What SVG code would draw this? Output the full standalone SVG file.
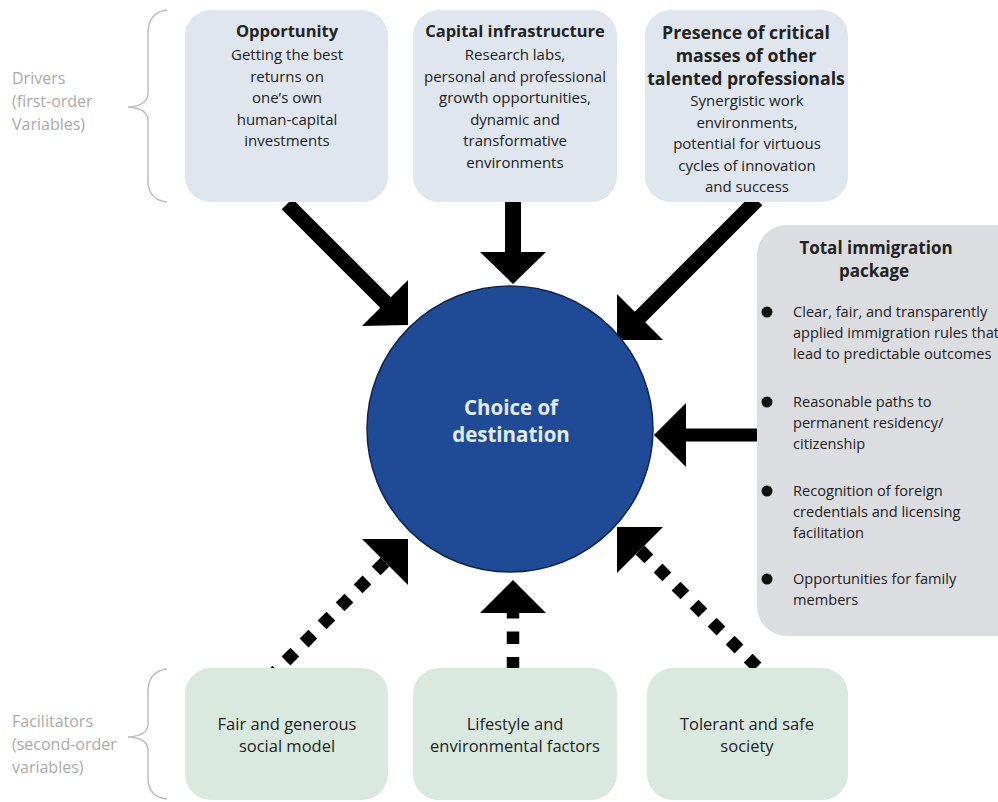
<svg xmlns="http://www.w3.org/2000/svg" width="998" height="802" viewBox="0 0 998 802">
<style>
.drv{fill:#dfe6ee}
.fac{fill:#dae9df}
.imm{fill:#dcdde1}
.t{font-family:"Open Sans","Liberation Sans",sans-serif;fill:#222;text-anchor:middle}
.b{font-size:16.5px;font-weight:bold}
.r{font-size:15px}
.l{font-size:14.6px;text-anchor:start}
.side{font-family:"Open Sans","Liberation Sans",sans-serif;font-size:16px;fill:#aaaaaa}
.brace{fill:none;stroke:#bdbdbd;stroke-width:1.5}
.solid{stroke:#000;fill:none}
.dot{stroke:#000;fill:none;stroke-width:12.5;stroke-dasharray:12.5 13}
.head{fill:#000}
</style>
<rect width="998" height="802" fill="#fff"/>
<g id="labels">
<path class="brace" d="M167,10 Q149,12 148,32 L148,94 Q147,106 128,107 Q147,108 148,120 L148,182 Q149,200 167,202"/>
<text class="side" x="12" y="84">Drivers</text>
<text class="side" x="12" y="107">(first-order</text>
<text class="side" x="12" y="130">Variables)</text>
<path class="brace" d="M167,669 Q149,671 148,690 L148,725 Q147,736 128,737 Q147,738 148,749 L148,780 Q149,797 167,799"/>
<text class="side" x="12" y="727">Facilitators</text>
<text class="side" x="12" y="750">(second-order</text>
<text class="side" x="12" y="773">variables)</text>
</g>
<g id="connectors">
<line class="solid" x1="287" y1="204" x2="387" y2="304" stroke-width="15"/>
<polygon class="head" points="408,325 362,326 408,280"/>
<line class="solid" x1="513" y1="200" x2="513" y2="253" stroke-width="16"/>
<polygon class="head" points="480,252 546,252 513,284"/>
<line class="solid" x1="757" y1="200" x2="639" y2="318" stroke-width="15"/>
<polygon class="head" points="617,340 617,294 663,340"/>
<line class="solid" x1="760" y1="435" x2="684" y2="435" stroke-width="13"/>
<polygon class="head" points="654,435 686,403 686,467"/>
<line class="dot" x1="385" y1="562" x2="275" y2="672"/>
<polygon class="head" points="408,539 362,539 408,585"/>
<line class="dot" x1="513" y1="613" x2="513" y2="672" stroke-dasharray="14 13" stroke-dashoffset="7" stroke-width="13"/>
<polygon class="head" points="513,580 480,613 546,613"/>
<line class="dot" x1="640" y1="550" x2="762" y2="672"/>
<polygon class="head" points="617,527 663,527 617,573"/>
</g>
<g id="opportunity">
<rect class="drv" x="185" y="10" width="203" height="192" rx="26"/>
<text class="t b" x="287" y="37">Opportunity</text>
<text class="t r" x="287" y="60">Getting the best</text>
<text class="t r" x="287" y="81.5">returns on</text>
<text class="t r" x="287" y="103">one’s own</text>
<text class="t r" x="287" y="124.5">human-capital</text>
<text class="t r" x="287" y="146">investments</text>
</g>
<g id="capital">
<rect class="drv" x="413" y="10" width="204" height="192" rx="26"/>
<text class="t b" x="515" y="37">Capital infrastructure</text>
<text class="t r" x="515" y="60">Research labs,</text>
<text class="t r" x="515" y="81.5">personal and professional</text>
<text class="t r" x="515" y="103">growth opportunities,</text>
<text class="t r" x="515" y="124.5">dynamic and</text>
<text class="t r" x="515" y="146">transformative</text>
<text class="t r" x="515" y="167.5">environments</text>
</g>
<g id="presence">
<rect class="drv" x="645" y="10" width="203" height="192" rx="26"/>
<text class="t b" x="746" y="39" style="font-size:17.7px">Presence of critical</text>
<text class="t b" x="746" y="62" style="font-size:17.7px">masses of other</text>
<text class="t b" x="746" y="85" style="font-size:17.7px">talented professionals</text>
<text class="t r" x="747" y="106">Synergistic work</text>
<text class="t r" x="747" y="127.5">environments,</text>
<text class="t r" x="747" y="149">potential for virtuous</text>
<text class="t r" x="747" y="170.5">cycles of innovation</text>
<text class="t r" x="747" y="192">and success</text>
</g>
<g id="immigration">
<rect class="imm" x="757" y="225" width="270" height="411" rx="30"/>
<text class="t b" x="876" y="254" style="font-size:17px">Total immigration</text>
<text class="t b" x="874" y="277" style="font-size:17px">package</text>
<circle cx="767" cy="312" r="5.5" fill="#111"/>
<text class="t l" x="793" y="317">Clear, fair, and transparently</text>
<text class="t l" x="793" y="338">applied immigration rules that</text>
<text class="t l" x="793" y="359">lead to predictable outcomes</text>
<circle cx="767" cy="402" r="5.5" fill="#111"/>
<text class="t l" x="793" y="407">Reasonable paths to</text>
<text class="t l" x="793" y="428">permanent residency/</text>
<text class="t l" x="793" y="449">citizenship</text>
<circle cx="767" cy="491" r="5.5" fill="#111"/>
<text class="t l" x="793" y="496">Recognition of foreign</text>
<text class="t l" x="793" y="517">credentials and licensing</text>
<text class="t l" x="793" y="538">facilitation</text>
<circle cx="767" cy="579" r="5.5" fill="#111"/>
<text class="t l" x="793" y="584">Opportunities for family</text>
<text class="t l" x="793" y="605">members</text>
</g>
<g id="choice">
<circle cx="510" cy="429" r="143" fill="#1f4b96" stroke="#0e2554" stroke-width="1.5"/>
<text class="t" x="511" y="415" style="font-size:20.5px;font-weight:bold;fill:#e3ebf7">Choice of</text>
<text class="t" x="511" y="442" style="font-size:20.5px;font-weight:bold;fill:#e3ebf7">destination</text>
</g>
<g id="fair">
<rect class="fac" x="185" y="668" width="203" height="132" rx="26"/>
<text class="t" x="287" y="730" style="font-size:16.5px">Fair and generous</text>
<text class="t" x="287" y="752" style="font-size:16.5px">social model</text>
</g>
<g id="lifestyle">
<rect class="fac" x="413" y="668" width="204" height="132" rx="26"/>
<text class="t" x="515" y="730" style="font-size:16.5px">Lifestyle and</text>
<text class="t" x="515" y="752" style="font-size:16.5px">environmental factors</text>
</g>
<g id="tolerant">
<rect class="fac" x="647" y="668" width="201" height="132" rx="26"/>
<text class="t" x="747" y="730" style="font-size:16.5px">Tolerant and safe</text>
<text class="t" x="747" y="752" style="font-size:16.5px">society</text>
</g>
</svg>
